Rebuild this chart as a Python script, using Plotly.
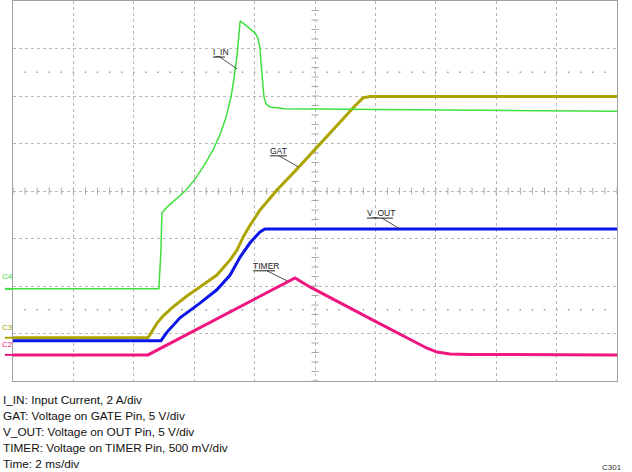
import numpy as np
import plotly.graph_objects as go

# ---- data (time in ms, level in screen divisions) ----
iin_t = [0, 4.83, 4.90, 4.93, 5.10, 5.36, 5.70, 6.03, 6.36, 6.62, 6.85, 7.05, 7.22, 7.32, 7.42,
         7.48, 7.52, 7.65, 7.85, 8.01, 8.11, 8.18, 8.21, 8.25, 8.31, 8.38, 8.51, 9.01, 20]
iin_v = [-2.06, -2.06, -1.24, -0.46, -0.34, -0.19, 0.0, 0.25, 0.57, 0.86, 1.18, 1.54, 1.98, 2.38, 2.86,
         3.28, 3.58, 3.52, 3.41, 3.33, 3.22, 3.01, 2.72, 2.34, 1.98, 1.83, 1.77, 1.73, 1.68]

gat_t = [0, 4.47, 4.77, 4.97, 5.30, 5.76, 6.19, 6.75, 7.19, 7.42, 7.62, 7.85, 8.18, 8.74,
         9.40, 10.0, 10.83, 11.32, 11.59, 11.82, 20]
gat_v = [-3.09, -3.09, -2.78, -2.63, -2.44, -2.21, -2.02, -1.77, -1.45, -1.24, -0.97, -0.72, -0.40, 0.02,
         0.46, 0.88, 1.45, 1.79, 1.96, 1.99, 1.99]

vout_t = [0, 4.90, 5.10, 5.53, 6.19, 6.75, 7.19, 7.52, 7.85, 8.18, 8.34, 20]
vout_v = [-3.15, -3.15, -2.97, -2.67, -2.36, -2.08, -1.77, -1.39, -1.09, -0.86, -0.80, -0.80]

timer_t = [0, 4.47, 9.34, 9.83, 11.92, 12.81, 13.31, 13.71, 14.04, 14.47, 15.13, 20]
timer_v = [-3.45, -3.45, -1.83, -2.02, -2.72, -3.01, -3.18, -3.31, -3.39, -3.43, -3.44, -3.45]

legend_lines = [
    "I_IN: Input Current, 2 A/div",
    "GAT: Voltage on GATE Pin, 5 V/div",
    "V_OUT: Voltage on OUT Pin, 5 V/div",
    "TIMER: Voltage on TIMER Pin, 500 mV/div",
    "Time: 2 ms/div",
]

GREEN = "#3ee03e"
OLIVE = "#ada400"
BLUE = "#0c16e8"
PINK = "#f0167f"
GRID = "#b8b8b8"
FONT = "Liberation Sans, Arial, sans-serif"

fig = go.Figure()

# graticule decorations
minor_x = np.arange(0, 20.001, 0.4)
minor_y = np.arange(-4, 4.001, 0.2)
fig.add_trace(go.Scatter(x=minor_x, y=np.zeros_like(minor_x), mode="markers",
                         marker=dict(symbol="line-ns", size=5, line=dict(width=1, color="#a8a8a8")),
                         hoverinfo="skip", showlegend=False))
fig.add_trace(go.Scatter(x=np.full_like(minor_y, 10.0), y=minor_y, mode="markers",
                         marker=dict(symbol="line-ew", size=5, line=dict(width=1, color="#a8a8a8")),
                         hoverinfo="skip", showlegend=False))
for yy in (2.5, -2.5):
    fig.add_trace(go.Scatter(x=minor_x[1:-1], y=np.full(len(minor_x) - 2, yy), mode="markers",
                             marker=dict(symbol="square", size=1.6, color="#a0a0a0"),
                             hoverinfo="skip", showlegend=False))

# signal traces
fig.add_trace(go.Scatter(x=gat_t, y=gat_v, mode="lines", line=dict(color=OLIVE, width=3),
                         showlegend=False, name="GAT"))
fig.add_trace(go.Scatter(x=vout_t, y=vout_v, mode="lines", line=dict(color=BLUE, width=3),
                         showlegend=False, name="V_OUT"))
fig.add_trace(go.Scatter(x=timer_t, y=timer_v, mode="lines", line=dict(color=PINK, width=3),
                         showlegend=False, name="TIMER"))
fig.add_trace(go.Scatter(x=iin_t, y=iin_v, mode="lines", line=dict(color=GREEN, width=1.5),
                         showlegend=False, name="I_IN"))

# trigger markers
fig.add_trace(go.Scatter(x=[8.0], y=[-4.08], mode="markers", cliponaxis=False,
                         marker=dict(symbol="triangle-up", size=7, color=OLIVE),
                         hoverinfo="skip", showlegend=False))
fig.add_trace(go.Scatter(x=[20.12], y=[-0.38], mode="markers", cliponaxis=False,
                         marker=dict(symbol="triangle-left", size=7, color=OLIVE),
                         hoverinfo="skip", showlegend=False))

shapes = []
annotations = []

# trace labels with underline and leader
labels = [
    ("I_IN", 6.62, 7.02, 2.93, 2.82, 6.85, 7.42, 2.57),
    ("GAT", 8.51, 9.07, 0.84, 0.74, 8.81, 9.44, 0.51),
    ("V_OUT", 11.72, 12.58, -0.46, -0.57, 12.22, 12.81, -0.80),
    ("TIMER", 7.95, 8.68, -1.57, -1.68, 8.41, 9.07, -1.89),
]
for txt, x0, x1, ty, uy, lx0, lx1, ly1 in labels:
    annotations.append(dict(x=x0, y=ty, xref="x", yref="y", text=txt, showarrow=False,
                            xanchor="left", yanchor="middle", xshift=-2,
                            font=dict(family=FONT, size=8.5, color="#222")))
    shapes.append(dict(type="line", xref="x", yref="y", x0=x0, x1=x1, y0=uy, y1=uy,
                       line=dict(color="#222", width=1)))
    shapes.append(dict(type="line", xref="x", yref="y", x0=lx0, x1=lx1, y0=uy, y1=ly1,
                       line=dict(color="#222", width=0.8)))

# channel markers on the left
chans = [("C4", GREEN, -2.06, -1.94), ("C3", OLIVE, -3.09, -3.0), ("C2", PINK, -3.45, -3.37)]
for txt, col, ly, ty in chans:
    annotations.append(dict(x=0, y=ty, xref="paper", yref="y", text=txt, showarrow=False,
                            xanchor="right", yanchor="bottom", xshift=2,
                            font=dict(family=FONT, size=8, color=col)))
    shapes.append(dict(type="line", xref="paper", yref="y", x0=-0.0135, x1=0, y0=ly, y1=ly,
                       line=dict(color=col, width=2)))

# bottom description
for i, line in enumerate(legend_lines):
    py = 400 + i * 16
    annotations.append(dict(x=-12 / 604, y=(381 - py) / 380, xref="paper", yref="paper",
                            text=line, showarrow=False, xanchor="left", yanchor="middle",
                            font=dict(family=FONT, size=11.8, color="#111")))
annotations.append(dict(x=599 / 604, y=(381 - 467) / 380, xref="paper", yref="paper",
                        text="C301", showarrow=False, xanchor="center", yanchor="middle",
                        font=dict(family=FONT, size=8, color="#333")))

fig.update_layout(
    width=632, height=472,
    margin=dict(l=13, r=15, t=1, b=91),
    paper_bgcolor="white", plot_bgcolor="white",
    showlegend=False,
    shapes=shapes, annotations=annotations,
    xaxis=dict(range=[0, 20], dtick=2, tick0=0, showgrid=True, gridcolor=GRID, griddash="dot",
               gridwidth=1, showticklabels=False, ticks="", zeroline=False,
               showline=True, mirror=True, linecolor="#a0a0a0", linewidth=1, fixedrange=True),
    yaxis=dict(range=[-4, 4], dtick=1, tick0=0, showgrid=True, gridcolor=GRID, griddash="dot",
               gridwidth=1, showticklabels=False, ticks="", zeroline=False,
               showline=True, mirror=True, linecolor="#a0a0a0", linewidth=1, fixedrange=True),
)

fig.write_html(
    "out.html",
    config={"displayModeBar": False},
    post_script="document.body.style.margin='0';document.body.style.overflow='hidden';",
)
